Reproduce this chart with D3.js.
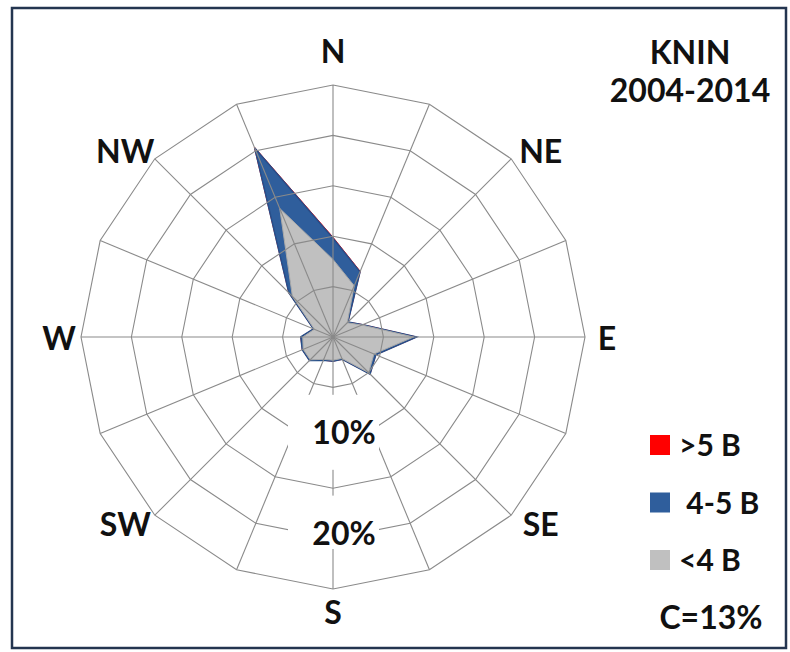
<!DOCTYPE html>
<html>
<head>
<meta charset="utf-8">
<script src="https://cdn.jsdelivr.net/npm/d3@7"></script>
<style>
  html, body { margin: 0; padding: 0; background: #fff; }
  svg { display: block; font-family: Lato, "Open Sans", sans-serif; font-weight: 700; }
</style>
</head>
<body>
<svg id="chart" width="790" height="652"></svg>
<script>
// Wind directions, clockwise from north
const directions = ["N","NNE","NE","ENE","E","ESE","SE","SSE","S","SSW","SW","WSW","W","WNW","NW","NNW"];
const compassLabels = ["N","NE","E","SE","S","SW","W","NW"];

// Frequency (%) of each wind-speed class per direction
const below4B = [7.7, 5.5, 2.0, 3.1, 8.0, 4.4, 5.0, 2.3, 2.3, 2.4, 3.2, 3.2, 3.0, 2.0, 5.7, 13.8];
const from4to5B = [2.1, 1.5, 0.1, 0.1, 0.3, 0.2, 0.2, 0.1, 0.1, 0.1, 0.1, 0.1, 0.2, 0.1, 0.5, 6.5];
const above5B = [0.1, 0.05, 0.0, 0.0, 0.0, 0.0, 0.0, 0.0, 0.0, 0.0, 0.0, 0.0, 0.0, 0.0, 0.0, 0.1];

const ringTicks = [5, 10, 15, 20, 25];
const labeledTicks = [10, 20];

const seriesNames = [">5 B", " 4-5 B", "<4 B"];
const seriesColors = ["#ff0000", "#2f5e9c", "#c0c0c0"];
const seriesStrokes = ["#ff0000", "#264f8a", "#a8a8a8"];

const titleLines = ["KNIN", "2004-2014"];
const calmText = "C=13%";

const cx = 333, cy = 337, R = 252;

const svg = d3.select("#chart");

// frame
svg.append("rect")
  .attr("x", 12).attr("y", 8)
  .attr("width", 774).attr("height", 640)
  .attr("fill", "#fff")
  .attr("stroke", "#243550").attr("stroke-width", 2.5);

const r = d3.scaleLinear().domain([0, 25]).range([0, R]);
const step = 2 * Math.PI / directions.length;

const radial = d3.lineRadial()
  .angle((d, i) => i * step)
  .radius(d => r(d))
  .curve(d3.curveLinearClosed);

const g = svg.append("g").attr("transform", `translate(${cx},${cy})`);

// cumulative totals, drawn largest first so each class shows as a band
const cumLow = below4B;
const cumMid = below4B.map((v, i) => v + from4to5B[i]);
const cumHigh = cumMid.map((v, i) => v + above5B[i]);
const layers = [cumHigh, cumMid, cumLow];

g.selectAll("path.series")
  .data(layers)
  .join("path")
  .attr("class", "series")
  .attr("d", d => radial(d))
  .attr("fill", (d, i) => seriesColors[i])
  .attr("stroke", (d, i) => seriesStrokes[i])
  .attr("stroke-width", (d, i) => i === 1 ? 1.5 : 1)
  .attr("stroke-linejoin", "miter");

// grid rings
g.selectAll("path.ring")
  .data(ringTicks)
  .join("path")
  .attr("class", "ring")
  .attr("d", t => radial(directions.map(() => t)))
  .attr("fill", "none")
  .attr("stroke", "#8a8a8a")
  .attr("stroke-width", 1.1);

// spokes
g.selectAll("line.spoke")
  .data(directions)
  .join("line")
  .attr("class", "spoke")
  .attr("x1", 0).attr("y1", 0)
  .attr("x2", (d, i) => r(25) * Math.sin(i * step))
  .attr("y2", (d, i) => -r(25) * Math.cos(i * step))
  .attr("stroke", "#8a8a8a")
  .attr("stroke-width", 1.1);

// percentage labels on the south spoke, on white boxes
const tickG = g.selectAll("g.tick")
  .data(labeledTicks)
  .join("g")
  .attr("class", "tick");

tickG.append("rect")
  .attr("x", -45)
  .attr("y", t => r(t) - 43)
  .attr("width", 91)
  .attr("height", t => Math.min(r(t) + 32, r(25) - 40) - (r(t) - 43))
  .attr("fill", "#fff");

tickG.append("text")
  .attr("x", 11)
  .attr("y", t => r(t) + 6)
  .attr("text-anchor", "middle")
  .attr("font-size", 32)
  .attr("fill", "#111")
  .text(t => t + "%");

// compass labels, pushed sideways on the diagonals
const labelR = R + 22;
g.selectAll("text.dir")
  .data(compassLabels)
  .join("text")
  .attr("class", "dir")
  .attr("x", (d, i) => {
    const a = i * 2 * step;
    return Math.sin(a) * labelR + Math.sin(a) * Math.abs(Math.cos(a)) * 28;
  })
  .attr("y", (d, i) => {
    const a = i * 2 * step;
    return -Math.cos(a) * labelR + Math.cos(a) * Math.abs(Math.sin(a)) * 14 - (i === 0 ? 13 : 0);
  })
  .attr("text-anchor", "middle")
  .attr("dominant-baseline", "central")
  .attr("font-size", 32)
  .attr("fill", "#111")
  .text(d => d);

// title
svg.selectAll("text.title")
  .data(titleLines)
  .join("text")
  .attr("class", "title")
  .attr("x", 690)
  .attr("y", (d, i) => 64 + i * 38)
  .attr("text-anchor", "middle")
  .attr("font-size", 32)
  .attr("fill", "#111")
  .text(d => d);

// legend
const leg = svg.append("g").attr("transform", "translate(650,435)");
const items = leg.selectAll("g")
  .data(seriesNames)
  .join("g")
  .attr("transform", (d, i) => `translate(0,${i * 57.5})`);
items.append("rect")
  .attr("width", 20).attr("height", 20)
  .attr("fill", (d, i) => seriesColors[i]);
items.append("text")
  .attr("x", 29).attr("y", 21)
  .attr("font-size", 30)
  .attr("fill", "#111")
  .attr("xml:space", "preserve")
  .style("white-space", "pre")
  .text(d => d);

svg.append("text")
  .attr("x", 711).attr("y", 629)
  .attr("text-anchor", "middle")
  .attr("font-size", 32)
  .attr("fill", "#111")
  .text(calmText);
</script>
</body>
</html>
